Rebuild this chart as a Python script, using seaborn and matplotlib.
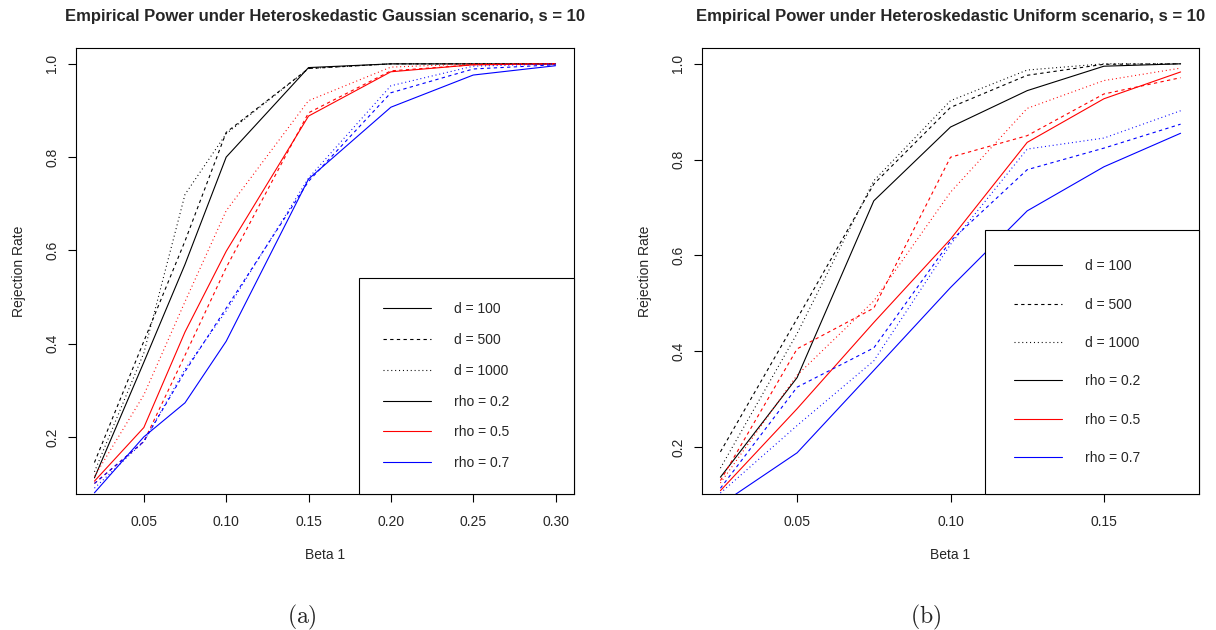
import numpy as np
import pandas as pd
import matplotlib
matplotlib.use("Agg")
import matplotlib.pyplot as plt
from matplotlib.lines import Line2D
import seaborn as sns

# beta_1 grids
beta_gauss = [0.02, 0.05, 0.075, 0.10, 0.15, 0.20, 0.25, 0.30]
beta_unif = [0.025, 0.05, 0.075, 0.10, 0.125, 0.15, 0.175]

# Gaussian scenario, rejection rates
gauss_d100_r02 = [0.112, 0.36, 0.57, 0.80, 0.992, 1.0, 1.0, 1.0]
gauss_d500_r02 = [0.145, 0.405, 0.62, 0.853, 0.99, 1.0, 1.0, 1.0]
gauss_d1000_r02 = [0.125, 0.38, 0.72, 0.85, 0.99, 1.0, 1.0, 1.0]
gauss_d100_r05 = [0.105, 0.22, 0.425, 0.598, 0.888, 0.983, 0.998, 1.0]
gauss_d500_r05 = [0.10, 0.19, 0.375, 0.563, 0.895, 0.985, 0.998, 1.0]
gauss_d1000_r05 = [0.115, 0.29, 0.49, 0.685, 0.921, 0.993, 1.0, 1.0]
gauss_d100_r07 = [0.08, 0.20, 0.273, 0.405, 0.753, 0.907, 0.976, 0.996]
gauss_d500_r07 = [0.10, 0.19, 0.34, 0.476, 0.748, 0.938, 0.989, 0.998]
gauss_d1000_r07 = [0.09, 0.19, 0.345, 0.47, 0.755, 0.953, 0.995, 1.0]

# Uniform scenario, rejection rates
unif_d100_r02 = [0.137, 0.345, 0.714, 0.868, 0.944, 0.995, 1.0]
unif_d500_r02 = [0.19, 0.468, 0.749, 0.909, 0.976, 0.999, 1.0]
unif_d1000_r02 = [0.156, 0.437, 0.756, 0.923, 0.987, 1.0, 1.0]
unif_d100_r05 = [0.109, 0.28, 0.46, 0.634, 0.836, 0.927, 0.983]
unif_d500_r05 = [0.13, 0.405, 0.49, 0.805, 0.85, 0.937, 0.971]
unif_d1000_r05 = [0.125, 0.35, 0.505, 0.732, 0.907, 0.965, 0.991]
unif_d100_r07 = [0.08, 0.188, 0.36, 0.533, 0.693, 0.785, 0.855]
unif_d500_r07 = [0.114, 0.325, 0.407, 0.63, 0.779, 0.824, 0.874]
unif_d1000_r07 = [0.104, 0.245, 0.38, 0.623, 0.822, 0.845, 0.902]

d_labels = ["100", "500", "1000"]
rho_labels = ["0.2", "0.5", "0.7"]


def to_long(beta, runs):
    rows = []
    for (d, rho), vals in runs.items():
        for b, v in zip(beta, vals):
            rows.append({"beta": b, "rate": v, "d": d, "rho": rho})
    return pd.DataFrame(rows)


gauss_df = to_long(beta_gauss, {
    ("100", "0.2"): gauss_d100_r02, ("500", "0.2"): gauss_d500_r02, ("1000", "0.2"): gauss_d1000_r02,
    ("100", "0.5"): gauss_d100_r05, ("500", "0.5"): gauss_d500_r05, ("1000", "0.5"): gauss_d1000_r05,
    ("100", "0.7"): gauss_d100_r07, ("500", "0.7"): gauss_d500_r07, ("1000", "0.7"): gauss_d1000_r07,
})
unif_df = to_long(beta_unif, {
    ("100", "0.2"): unif_d100_r02, ("500", "0.2"): unif_d500_r02, ("1000", "0.2"): unif_d1000_r02,
    ("100", "0.5"): unif_d100_r05, ("500", "0.5"): unif_d500_r05, ("1000", "0.5"): unif_d1000_r05,
    ("100", "0.7"): unif_d100_r07, ("500", "0.7"): unif_d500_r07, ("1000", "0.7"): unif_d1000_r07,
})

sns.set_style("ticks")
plt.rcParams["font.family"] = ["Liberation Sans", "DejaVu Sans"]
plt.rcParams["mathtext.fontset"] = "cm"
plt.rcParams["axes.linewidth"] = 0.8

palette = {"0.2": "black", "0.5": "red", "0.7": "blue"}
dashes = {"100": "", "500": (3, 3), "1000": (0.9, 2.6)}
lw = 0.8

fig = plt.figure(figsize=(12.16, 6.3), dpi=100)
ax1 = fig.add_axes([76 / 1216, 136 / 630, 498 / 1216, 446 / 630])
ax2 = fig.add_axes([702 / 1216, 136 / 630, 497 / 1216, 446 / 630])

panels = [
    (ax1, gauss_df, "Empirical Power under Heteroskedastic Gaussian scenario, s = 10",
     (0.0088, 0.3112), (0.0774, 1.034), [0.05, 0.10, 0.15, 0.20, 0.25, 0.30], 1.72, 1.21),
    (ax2, unif_df, "Empirical Power under Heteroskedastic Uniform scenario, s = 10",
     (0.019, 0.181), (0.102, 1.033), [0.05, 0.10, 0.15], 2.1, 1.75),
]

for ax, df, title, xlim, ylim, xticks, bpad, lspace in panels:
    sns.lineplot(data=df, x="beta", y="rate", hue="rho", style="d",
                 palette=palette, dashes=dashes, linewidth=lw,
                 estimator=None, legend=False, ax=ax)
    ax.set_xlim(*xlim)
    ax.set_ylim(*ylim)
    ax.set_xticks(xticks)
    ax.set_xticklabels([f"{t:.2f}" for t in xticks])
    ax.set_yticks([0.2, 0.4, 0.6, 0.8, 1.0])
    ax.set_yticklabels(["0.2", "0.4", "0.6", "0.8", "1.0"], rotation=90, va="center")
    ax.tick_params(axis="both", direction="out", length=6, width=0.8,
                   labelsize=10, color="black")
    ax.tick_params(axis="x", pad=9)
    ax.tick_params(axis="y", pad=6)
    for sp in ax.spines.values():
        sp.set_visible(True)
        sp.set_color("black")
        sp.set_linewidth(0.8)
    ax.set_title(title, fontsize=12, fontweight="bold", pad=19.7)
    ax.set_xlabel("Beta 1", fontsize=10)
    ax.set_ylabel("Rejection Rate", fontsize=10)
    ax.xaxis.set_label_coords(0.5, -0.122)
    ax.yaxis.set_label_coords(-0.101, 0.5)

    handles = [Line2D([], [], color="black", lw=lw)]
    handles += [Line2D([], [], color="black", lw=lw, dashes=dashes[d]) for d in d_labels[1:]]
    handles += [Line2D([], [], color=palette[r], lw=lw) for r in rho_labels]
    labels = [f"d = {d}" for d in d_labels] + [f"rho = {r}" for r in rho_labels]
    leg = ax.legend(handles, labels, loc="lower left",
                    bbox_to_anchor=(0.569, 0.0, 0.431, 0.5), mode="expand",
                    borderaxespad=0, fontsize=10, frameon=True, fancybox=False,
                    framealpha=1, edgecolor="black", borderpad=bpad,
                    labelspacing=lspace, handlelength=3.46, handletextpad=1.66)
    leg.get_frame().set_linewidth(0.8)

fig.text(302 / 1216, 1 - 623 / 630, r"$\mathrm{(a)}$", fontsize=17, ha="center", va="baseline")
fig.text(926 / 1216, 1 - 623 / 630, r"$\mathrm{(b)}$", fontsize=17, ha="center", va="baseline")

fig.savefig("out.png", dpi=100)
